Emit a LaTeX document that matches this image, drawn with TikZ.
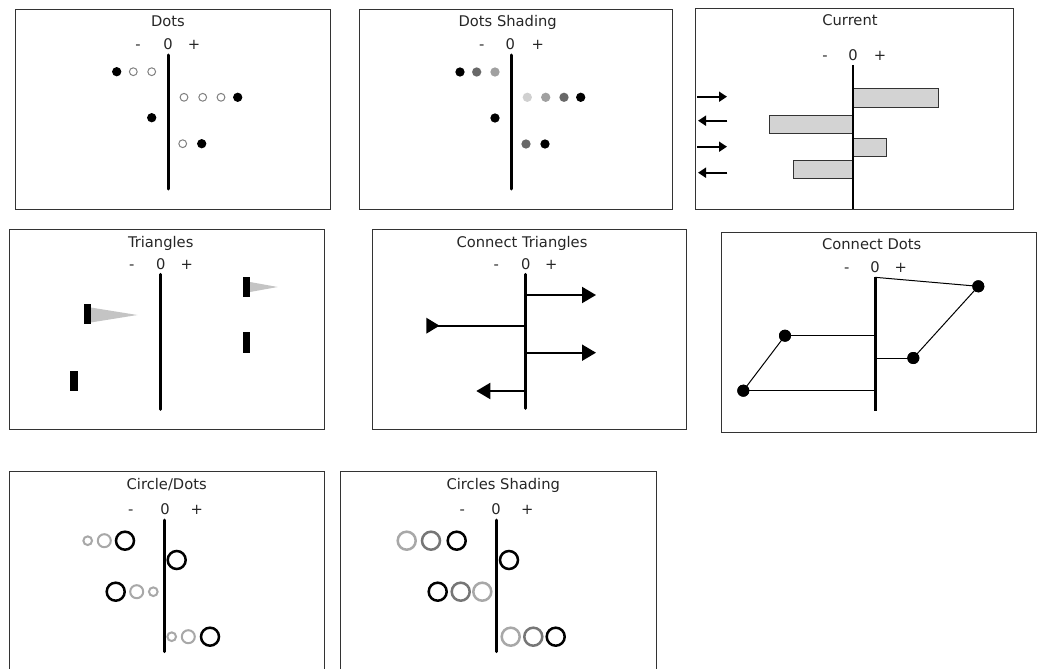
\documentclass[tikz,border=0pt]{standalone}
\usepackage{fontspec}
\setmainfont{DejaVu Sans}
\usetikzlibrary{arrows.meta}
\definecolor{barfill}{HTML}{D3D3D3}
\definecolor{shA}{HTML}{D0D0D0}
\definecolor{shB}{HTML}{A0A0A0}
\definecolor{shC}{HTML}{686868}
\definecolor{ringL}{HTML}{A8A8A8}
\definecolor{ringM}{HTML}{767676}
\definecolor{trifill}{HTML}{C4C4C4}
\begin{document}
\begin{tikzpicture}[x=1pt,y=-1pt,
  panel/.style={draw=black!80, line width=1pt},
  lbl/.style={anchor=base, inner sep=0pt, font=\fontsize{14.7}{17}\selectfont, text=black!85},
  axisline/.style={line width=3pt, line cap=round},
  fdot/.style={circle, fill=#1, inner sep=0pt, minimum size=9.3pt},
  odot/.style={circle, draw=black!50, fill=white, line width=1pt, inner sep=0pt, minimum size=7.8pt},
  bar/.style={draw=black!80, fill=barfill, line width=1pt},
  carrow/.style={line width=1.8pt, -{Triangle[length=8pt,width=10pt]}},
  tarrow/.style={line width=2pt, -{Triangle[length=14pt,width=16pt]}},
  blk/.style={fill=black},
  tri/.style={fill=trifill},
  cdot/.style={circle, fill=black, inner sep=0pt, minimum size=12pt},
  thin/.style={line width=1pt},
  ring/.style={circle, draw=#1, line width=2.5pt, inner sep=0pt, minimum size=18pt},
  ringS/.style={circle, draw=ringL, line width=2pt, inner sep=0pt, minimum size=8.7pt},
  ringMd/.style={circle, draw=ringL, line width=2pt, inner sep=0pt, minimum size=13pt},
]
\useasboundingbox (0,0) rectangle (1037,669);
\fill[white] (0,0) rectangle (1037,669);
\clip (0,0) rectangle (1037,669);

% ---------- Panel 1: Dots ----------
\draw[panel] (15,10) rectangle (330,209);
\node[lbl] (t1) at (168,26.5) {Dots};
\node[lbl] (m1) at (138,50) {-};
\node[lbl] (z1) at (168,50) {0};
\node[lbl] (p1) at (194,50) {+};
\coordinate (a1t) at (168,55);
\coordinate (a1b) at (168,189);
\draw[axisline] (a1t) -- (a1b);
\node[fdot=black] (d1a) at (116.7,71.7) {};
\node[odot] (d1b) at (133.3,71.7) {};
\node[odot] (d1c) at (151.7,71.7) {};
\node[odot] (d1d) at (184,97.3) {};
\node[odot] (d1e) at (202.7,97.3) {};
\node[odot] (d1f) at (221,97.3) {};
\node[fdot=black] (d1g) at (237.7,97.3) {};
\node[fdot=black] (d1h) at (151.7,117.7) {};
\node[odot] (d1i) at (182.7,143.7) {};
\node[fdot=black] (d1j) at (201.7,143.7) {};

% ---------- Panel 2: Dots Shading ----------
\draw[panel] (359,10) rectangle (672,209);
\node[lbl] (t2) at (507.7,26.5) {Dots Shading};
\node[lbl] (m2) at (481.7,50) {-};
\node[lbl] (z2) at (510.3,50) {0};
\node[lbl] (p2) at (537.7,50) {+};
\coordinate (a2t) at (511,55);
\coordinate (a2b) at (511,189);
\draw[axisline] (a2t) -- (a2b);
\node[fdot=black] (d2a) at (460,72) {};
\node[fdot=shC] (d2b) at (476.7,72) {};
\node[fdot=shB] (d2c) at (495,72) {};
\node[fdot=shA] (d2d) at (527.3,97.3) {};
\node[fdot=shB] (d2e) at (545.7,97.3) {};
\node[fdot=shC] (d2f) at (564,97.3) {};
\node[fdot=black] (d2g) at (580.7,97.3) {};
\node[fdot=black] (d2h) at (495,118) {};
\node[fdot=shC] (d2i) at (526,144) {};
\node[fdot=black] (d2j) at (545,144) {};

% ---------- Panel 3: Current ----------
\draw[panel] (695,9) rectangle (1013.3,209.3);
\node[lbl] (t3) at (850,25.7) {Current};
\node[lbl] (m3) at (825,61) {-};
\node[lbl] (z3) at (853,61) {0};
\node[lbl] (p3) at (880,61) {+};
\draw[bar] (853.3,88.3) rectangle (938.3,107.3);
\draw[bar] (769.3,115) rectangle (853.3,133.3);
\draw[bar] (853.3,138.3) rectangle (886.7,156);
\draw[bar] (793.3,160.7) rectangle (853.3,178.3);
\coordinate (a3t) at (853.3,65);
\coordinate (a3b) at (853.3,209.3);
\draw[line width=2pt] (a3t) -- (a3b);
\coordinate (c1s) at (697.3,96.7);  \coordinate (c1e) at (727,96.7);
\coordinate (c2s) at (727.3,120.7); \coordinate (c2e) at (698,120.7);
\coordinate (c3s) at (697.3,146.7); \coordinate (c3e) at (727,146.7);
\coordinate (c4s) at (727.3,172.7); \coordinate (c4e) at (698,172.7);
\draw[carrow] (c1s) -- (c1e);
\draw[carrow] (c2s) -- (c2e);
\draw[carrow] (c3s) -- (c3e);
\draw[carrow] (c4s) -- (c4e);

% ---------- Panel 4: Triangles ----------
\draw[panel] (9,229) rectangle (324,429);
\node[lbl] (t4) at (160.7,247) {Triangles};
\node[lbl] (m4) at (131.7,269.7) {-};
\node[lbl] (z4) at (160.7,269.7) {0};
\node[lbl] (p4) at (186.7,269.7) {+};
\coordinate (a4t) at (160.7,274.3);
\coordinate (a4b) at (160.7,409.3);
\draw[axisline] (a4t) -- (a4b);
\fill[tri] (90.7,307.5) -- (137.3,315) -- (90.7,322.5) -- cycle;
\fill[blk] (84,304.3) rectangle (90.7,324.3);
\fill[tri] (250,282) -- (277.7,287) -- (250,292) -- cycle;
\fill[blk] (242.7,276.7) rectangle (250,296.7);
\fill[blk] (242.7,332.3) rectangle (250,352.7);
\fill[blk] (70.3,370.7) rectangle (77.7,391);

% ---------- Panel 5: Connect Triangles ----------
\draw[panel] (372.7,229) rectangle (686.3,429);
\node[lbl] (t5) at (522,247) {Connect Triangles};
\node[lbl] (m5) at (496.3,269.7) {-};
\node[lbl] (z5) at (525.7,269.7) {0};
\node[lbl] (p5) at (551.3,269.7) {+};
\coordinate (a5t) at (525.7,274.3);
\coordinate (a5b) at (525.7,408.3);
\draw[axisline] (a5t) -- (a5b);
\coordinate (e1s) at (525.7,295);   \coordinate (e1e) at (596,295);
\coordinate (e3s) at (525.7,352.7); \coordinate (e3e) at (596,352.7);
\coordinate (e4s) at (525.7,391);   \coordinate (e4e) at (476.3,391);
\coordinate (e2s) at (438,325.7);   \coordinate (e2e) at (525.7,325.7);
\draw[tarrow] (e1s) -- (e1e);
\draw[tarrow] (e3s) -- (e3e);
\draw[tarrow] (e4s) -- (e4e);
\draw[line width=2pt] (e2s) -- (e2e);
\fill (426.3,317.7) -- (439.5,325.7) -- (426.3,333.7) -- cycle;

% ---------- Panel 6: Connect Dots ----------
\draw[panel] (721,232) rectangle (1036,432);
\node[lbl] (t6) at (871.7,249.7) {Connect Dots};
\node[lbl] (m6) at (846.7,272.3) {-};
\node[lbl] (z6) at (875,272.3) {0};
\node[lbl] (p6) at (900.7,272.3) {+};
\coordinate (a6t) at (875,277.3);
\coordinate (a6b) at (875,411.3);
\coordinate (a6c) at (875,358);
\coordinate (a6d) at (875,335.7);
\coordinate (a6e) at (875,390.7);
\node[cdot] (g1) at (978.3,286.3) {};
\node[cdot] (g2) at (785,335.7) {};
\node[cdot] (g3) at (913.3,358) {};
\node[cdot] (g4) at (743.3,390.7) {};
\draw[thin] (a6t) -- (g1.center);
\draw[thin] (g1.center) -- (g3.center);
\draw[thin] (g3.center) -- (a6c);
\draw[thin] (g2.center) -- (a6d);
\draw[thin] (g2.center) -- (g4.center);
\draw[thin] (g4.center) -- (a6e);
\node[cdot] at (g1) {};
\node[cdot] at (g2) {};
\node[cdot] at (g3) {};
\node[cdot] at (g4) {};
\draw[axisline, line cap=butt] (a6t) -- (a6b);

% ---------- Panel 7: Circle/Dots ----------
\draw[panel] (9,700) -- (9,471) -- (324.3,471) -- (324.3,700);
\node[lbl] (t7) at (166.7,489) {Circle/Dots};
\node[lbl] (m7) at (130.7,514.3) {-};
\node[lbl] (z7) at (165,514.3) {0};
\node[lbl] (p7) at (196.7,514.3) {+};
\coordinate (a7t) at (164.3,520);
\coordinate (a7b) at (164.3,651.7);
\draw[axisline] (a7t) -- (a7b);
\node[ringS] (r7a) at (87.7,540.7) {};
\node[ringMd] (r7b) at (104.3,540.7) {};
\node[ring=black] (r7c) at (125,540.7) {};
\node[ring=black] (r7d) at (176.7,560) {};
\node[ring=black] (r7e) at (115.7,591.7) {};
\node[ringMd] (r7f) at (136.7,591.7) {};
\node[ringS] (r7g) at (153.3,591.7) {};
\node[ringS] (r7h) at (171.7,636.7) {};
\node[ringMd] (r7i) at (188.3,636.7) {};
\node[ring=black] (r7j) at (210,636.7) {};

% ---------- Panel 8: Circles Shading ----------
\draw[panel] (340,700) -- (340,471) -- (656.7,471) -- (656.7,700);
\node[lbl] (t8) at (503.3,489) {Circles Shading};
\node[lbl] (m8) at (462.3,514.3) {-};
\node[lbl] (z8) at (496,514.3) {0};
\node[lbl] (p8) at (527.3,514.3) {+};
\coordinate (a8t) at (496,520);
\coordinate (a8b) at (496,651.7);
\draw[axisline] (a8t) -- (a8b);
\node[ring=ringL] (r8a) at (406.7,540.7) {};
\node[ring=ringM] (r8b) at (431,540.7) {};
\node[ring=black] (r8c) at (456.7,540.7) {};
\node[ring=black] (r8d) at (509,560) {};
\node[ring=black] (r8e) at (437.7,591.7) {};
\node[ring=ringM] (r8f) at (460.7,591.7) {};
\node[ring=ringL] (r8g) at (482.3,591.7) {};
\node[ring=ringL] (r8h) at (510.7,636.7) {};
\node[ring=ringM] (r8i) at (533.3,636.7) {};
\node[ring=black] (r8j) at (555.7,636.7) {};
\end{tikzpicture}
\end{document}
